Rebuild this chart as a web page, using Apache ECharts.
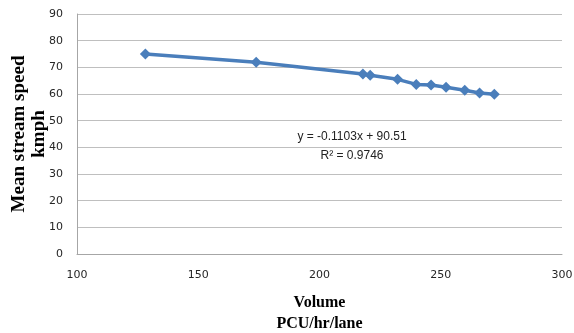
<!DOCTYPE html>
<html><head><meta charset="utf-8">
<script src="https://cdn.jsdelivr.net/npm/echarts@6/dist/echarts.min.js"></script>
<style>html,body{margin:0;padding:0;background:#fff}#c{width:574px;height:333px}</style>
</head><body><div id="c"></div>
<script>
const volume = [128.2, 173.9, 217.9, 220.9, 232.2, 239.9, 246.0, 252.2, 259.9, 266.0, 272.1];
const speed  = [75.0, 71.9, 67.5, 67.0, 65.5, 63.6, 63.4, 62.5, 61.4, 60.4, 59.9];
const xTitle = "Volume\nPCU/hr/lane";
const yTitle = "Mean stream speed\nkmph";
const eqLines = ["y = -0.1103x + 90.51", "R² = 0.9746"];

const chart = echarts.init(document.getElementById('c'));
chart.setOption({
  animation: false,
  grid: {left: 77, right: 12, top: 14, bottom: 79, outerBoundsMode: 'none', containLabel: false},
  xAxis: {
    type: 'value', min: 100, max: 300, interval: 50,
    axisLine: {show: true, lineStyle: {color: '#a6a6a6', width: 1}},
    axisTick: {show: false},
    splitLine: {show: false},
    axisLabel: {color: '#262626', fontFamily: 'DejaVu Sans', fontSize: 11, margin: 16},
    name: xTitle, nameLocation: 'middle', nameGap: 38,
    nameTextStyle: {fontFamily: 'Liberation Serif', fontWeight: 'bold', fontSize: 16, color: '#000', lineHeight: 21}
  },
  yAxis: {
    type: 'value', min: 0, max: 90, interval: 10,
    axisLine: {show: true, lineStyle: {color: '#a6a6a6', width: 1}},
    axisTick: {show: false},
    splitLine: {show: true, lineStyle: {color: '#bfbfbf', width: 1}},
    axisLabel: {color: '#262626', fontFamily: 'DejaVu Sans', fontSize: 11, margin: 14},
    name: yTitle, nameLocation: 'middle', nameGap: 28, nameRotate: 90, nameMoveOverlap: false,
    nameTextStyle: {fontFamily: 'Liberation Serif', fontWeight: 'bold', fontSize: 19, color: '#000', lineHeight: 20}
  },
  series: [{
    type: 'line', data: volume.map((v, i) => [v, speed[i]]),
    symbol: 'diamond', symbolSize: 11, showSymbol: true,
    lineStyle: {color: '#4a7ebb', width: 3.5},
    itemStyle: {color: '#4a7ebb'}
  }],
  graphic: [{
    type: 'text', x: 352, y: 146,
    style: {text: eqLines.join('\n'), font: '12px "Liberation Sans"', fill: '#222', align: 'center', verticalAlign: 'middle', lineHeight: 19}
  }]
});
</script></body></html>
